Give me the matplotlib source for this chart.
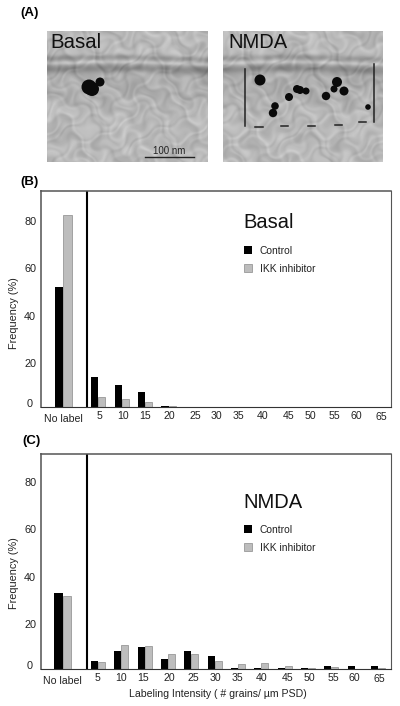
import numpy as np
import matplotlib.pyplot as plt
from matplotlib.patches import Circle
from matplotlib.transforms import ScaledTranslation

plt.rcParams['font.family'] = ['Liberation Sans', 'DejaVu Sans']

# data
bins = [5, 10, 15, 20, 25, 30, 35, 40, 45, 50, 55, 60, 65]
basal_control = [14, 10.5, 7.9, 1.8, 0, 0, 0, 0, 0, 0, 0, 0, 0]
basal_ikk = [5.6, 4.9, 3.4, 1.7, 0, 0, 0, 0, 0, 0, 0, 0, 0]
basal_nolabel = [52, 82.5]
nmda_control = [4.4, 8.8, 10.2, 5.1, 8.8, 6.7, 1.6, 1.6, 1.6, 1.6, 2.3, 2.3, 2.3]
nmda_ikk = [4, 11.2, 10.6, 7.4, 7.4, 4.3, 3, 3.5, 2.2, 1.3, 1.8, 0, 1.3]
nmda_nolabel = [33, 31.8]
yticks = [20, 40, 60, 80]

# immunogold grains in the micrographs: x, y, radius in pixels
basal_grains = [(89, 87, 7.5), (92, 89, 7), (100, 82, 4.5)]
nmda_grains = [(260, 80, 5.5), (297, 89, 4), (300, 90, 4), (306, 91, 3.5),
               (275, 106, 3.8), (273, 113, 4.2), (289, 97, 4), (326, 96, 4.2), (337, 82, 5),
               (334, 89, 3.5), (344, 91, 4.5), (368, 107, 2.8)]
nmda_brackets = [(245, 69, 245, 126), (374, 64, 374, 122)]
nmda_dashes = [(255, 127, 263, 127), (281, 126, 288, 126), (308, 126, 315, 126),
               (335, 125, 342, 125), (359, 122, 366, 122)]

fig = plt.figure(figsize=(4, 7.06), dpi=100)
W, H = 400.0, 706.0


def photo_texture(x0, x1, y0, y1):
    xx, yy = np.meshgrid(np.arange(x0, x1), np.arange(y0, y1))
    # warped coordinates so the mottling does not look like a lattice
    u = xx + 9 * np.sin(yy * 0.09 + 0.7) + 6 * np.sin(yy * 0.23 + xx * 0.13)
    v = yy + 9 * np.sin(xx * 0.08 + 2.1) + 6 * np.cos(xx * 0.21 - yy * 0.11)
    tex = (np.sin(u * 0.31) * np.cos(v * 0.34)
           + 0.6 * np.sin(u * 0.13 - v * 0.17 + 1.3)
           + 0.3 * np.sin(u * 0.53 + 0.4) * np.sin(v * 0.61))
    img = 184 + 11 * tex
    # darker haze below the membrane, as in the micrographs
    img -= 12 * np.exp(-((yy - 82) / 20.0) ** 2)
    # membrane bands
    bow = 1.5 * np.sin((xx - x0) * 0.025)
    d = yy - 63 + bow
    img += 18 * np.exp(-(d / 2.0) ** 2)
    img -= 42 * np.exp(-((d - 6) / 4.5) ** 2)
    img -= 30 * np.exp(-((d + 5) / 3.0) ** 2)
    return np.clip(img, 0, 255)


# top panel drawn in pixel coordinates
top = fig.add_axes([0, 0, 1, 1], zorder=3)
top.set_xlim(0, W)
top.set_ylim(H, 0)
top.axis('off')
top.patch.set_alpha(0)
for x0, x1 in [(47, 208), (223, 383)]:
    top.imshow(photo_texture(x0, x1, 31, 162), cmap='gray', vmin=0, vmax=255,
               extent=(x0, x1, 162, 31), aspect='auto', interpolation='bilinear')
top.set_xlim(0, W)
top.set_ylim(H, 0)
for gx, gy, r in basal_grains + nmda_grains:
    top.add_patch(Circle((gx, gy), r, color='#0a0a0a', lw=0))
for seg in nmda_brackets:
    top.plot(seg[::2], seg[1::2], color='#222222', lw=1.1)
for seg in nmda_dashes:
    top.plot(seg[::2], seg[1::2], color='#222222', lw=1.1)
top.plot([145, 194], [156.5, 156.5], color='#222222', lw=1)
top.text(169, 151, '100 nm', fontsize=7, ha='center', va='center', color='#222222')
top.text(50, 43, 'Basal', fontsize=14.7, ha='left', va='center', color='#111111')
top.text(228, 43, 'NMDA', fontsize=14.5, ha='left', va='center', color='#111111')
top.text(20, 13, '(A)', fontsize=9.5, fontweight='bold', ha='left', va='center')
top.text(20, 182, '(B)', fontsize=9.5, fontweight='bold', ha='left', va='center')
top.text(22, 441, '(C)', fontsize=9.5, fontweight='bold', ha='left', va='center')


def shift(label, dx, dy):
    label.set_transform(label.get_transform() + ScaledTranslation(dx / 100, dy / 100, fig.dpi_scale_trans))


def panel(y_top, y_bot, y_zero, x_lim, control, ikk, nolabel, title, title_xy, leg_xy, dxs, ylab_y):
    ax = fig.add_axes([41 / W, 1 - y_bot / H, 350 / W, (y_bot - y_top) / H])
    # the printed 0 sits a little below the frame, so the frame starts above zero
    base = (y_zero - y_bot) / 2.367
    ax.set_ylim(base, (y_zero - y_top) / 2.367)
    ax.set_xlim(*x_lim)
    pos = np.arange(len(bins))
    w = 0.3
    grey = dict(color='#bdbdbd', edgecolor='#8a8a8a', linewidth=0.5)
    keep = [i for i in pos if control[i] > 0]
    ax.bar(pos[keep] - w / 2, np.array(control)[keep] - base, width=w, bottom=base,
           color='black', label='Control')
    keep = [i for i in pos if ikk[i] > 0]
    ax.bar(pos[keep] + w / 2, np.array(ikk)[keep] - base, width=w, bottom=base,
           label='IKK inhibitor', **grey)
    ax.bar(-1.5 - 0.185, nolabel[0] - base, width=0.37, bottom=base, color='black')
    ax.bar(-1.5 + 0.185, nolabel[1] - base, width=0.37, bottom=base, **grey)
    ax.axvline(-0.48, color='black', lw=1.5)

    ax.set_xticks([-1.5] + list(pos))
    ax.set_xticklabels(['No label'] + [str(b) for b in bins], fontsize=7.6, color='#222222')
    ax.set_yticks([base] + yticks)
    ax.set_yticklabels(['0'] + [str(t) for t in yticks], fontsize=7.8, color='#222222')
    ax.tick_params(length=0, axis='both')
    ax.tick_params(axis='x', pad=3)
    ax.tick_params(axis='y', pad=3.5)
    labels = ax.get_xticklabels()
    shift(labels[0], 0, -3)
    for lab, dx in zip(labels[1:], dxs):
        shift(lab, dx, 0)
    shift(labels[-1], 0, -1)
    shift(ax.get_yticklabels()[0], -4, 4)

    for side in ['left', 'right', 'top']:
        ax.spines[side].set_color('#555555')
    ax.spines['left'].set_color('#777777')
    ax.spines['left'].set_linewidth(1.4)
    ax.spines['bottom'].set_color('#333333')
    ax.spines['top'].set_linewidth(1.1)
    ax.set_ylabel('Frequency (%)', fontsize=7.8, color='#222222')
    ax.yaxis.set_label_coords(-22 / 350, ylab_y)

    ax.text(title_xy[0] / W, 1 - title_xy[1] / H, title, fontsize=14.5, color='#111111',
            transform=fig.transFigure, ha='left', va='center')
    ax.legend(loc='upper left', bbox_to_anchor=(leg_xy[0] / W, 1 - leg_xy[1] / H),
              bbox_transform=fig.transFigure, frameon=False, fontsize=7.4,
              handlelength=0.8, handleheight=0.8, handletextpad=0.75, labelspacing=0.75,
              borderpad=0, borderaxespad=0, labelcolor='#222222')
    return ax


panel(191, 407, 410.3, (-2.45, 12.51), basal_control, basal_ikk, basal_nolabel,
      'Basal', (243, 223), (244, 246),
      [1, 1, 0, 1, 3, 1.5, 0, 0, 3, 2, 2, 1, 2], 0.435)
ax = panel(453.7, 669.3, 671.5, (-2.435, 12.56), nmda_control, nmda_ikk, nmda_nolabel,
           'NMDA', (243, 502), (244, 525),
           [-0.5, -0.5, -1, 1, 2, 1, 0, 0, 3, 1, 2, 0, 1], 0.448)
ax.set_xlabel('Labeling Intensity ( # grains/ µm PSD)', fontsize=7.6, color='#222222')
ax.xaxis.set_label_coords((218 - 41) / 350, -19.7 / 215.6)

fig.savefig('out.png', dpi=100)
